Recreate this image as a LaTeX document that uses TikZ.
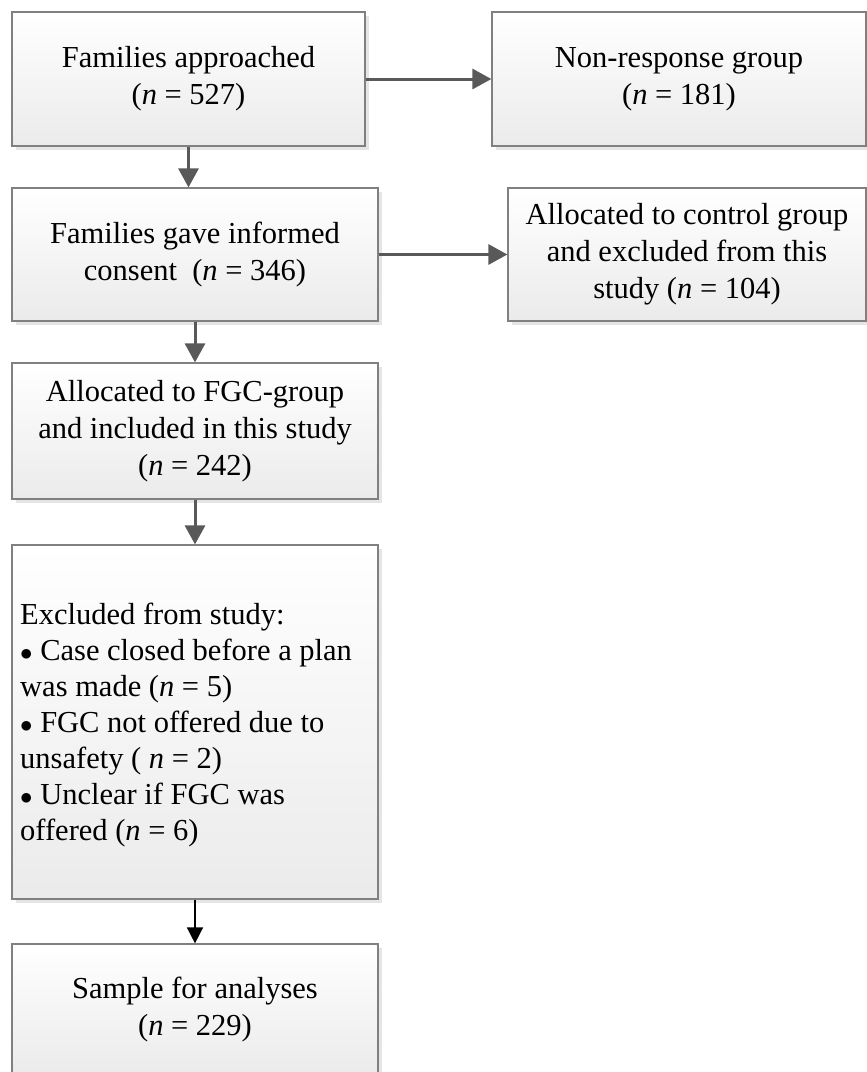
\documentclass[tikz,border=0pt]{standalone}
\usepackage{fontspec}
\setmainfont{Liberation Serif}
\usetikzlibrary{arrows.meta,shadows}
\tikzset{
  box/.style={draw=black!50, line width=1.2pt, rectangle, inner sep=0pt,
    top color=white, bottom color=black!8,
    drop shadow={shadow xshift=4pt, shadow yshift=-4pt, fill=black!10, opacity=1},
    align=center, font=\fontsize{30.5}{37}\selectfont},
  garrow/.style={draw=black!65, line width=3pt,
    -{Triangle[length=19pt,width=20pt]}, fill=black!65},
  karrow/.style={draw=black, line width=1.5pt,
    -{Triangle[length=16pt,width=16pt]}},
  txt/.style={inner sep=0pt, align=left, anchor=north west,
    font=\fontsize{30.5}{36}\selectfont}
}
\newcommand{\bul}{$\bullet$}
\begin{document}
\begin{tikzpicture}[x=1pt,y=-1pt]
\useasboundingbox (0,0) rectangle (867,1072);
\node[box, minimum width=353pt, minimum height=134pt] (b1) at (188.5,79) {Families approached\\(\textit{n} = 527)};
\node[box, minimum width=374pt, minimum height=134pt] (b2) at (679,79) {Non-response group\\(\textit{n} = 181)};
\node[box, minimum width=366pt, minimum height=133pt] (b3) at (195,254.5) {Families gave informed\\consent\ \ (\textit{n} = 346)};
\node[box, minimum width=358pt, minimum height=133pt] (b4) at (687,254.5) {Allocated to control group\\and excluded from this\\study (\textit{n} = 104)};
\node[box, minimum width=366pt, minimum height=136pt] (b5) at (195,431) {Allocated to FGC-group\\and included in this study\\(\textit{n} = 242)};
\node[box, minimum width=366pt, minimum height=354pt] (b6) at (195,722) {};
\node[txt] (b6t) at (20,603) {Excluded from study:\\%
\bul\ Case closed before a plan\\was made (\textit{n} = 5)\\%
\bul\ FGC not offered due to\\unsafety ( \textit{n} = 2)\\%
\bul\ Unclear if FGC was\\offered (\textit{n} = 6)};
\node[box, minimum width=366pt, minimum height=131pt] (b7) at (195,1009.5) {Sample for analyses\\(\textit{n} = 229)};
\draw[garrow] (b1.east) -- (b2.west);
\draw[garrow] (b3.east) -- (b4.west);
\draw[garrow] (b1.south) -- (b1.south |- b3.north);
\draw[garrow] (b3.south) -- (b5.north);
\draw[garrow] (b5.south) -- (b6.north);
\draw[karrow] (b6.south) -- (b7.north);
\end{tikzpicture}
\end{document}
